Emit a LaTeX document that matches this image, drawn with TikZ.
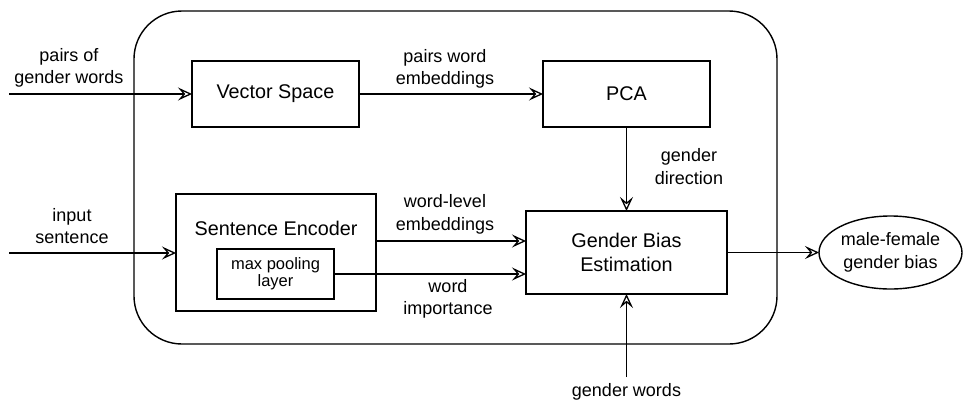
\documentclass[tikz,border=0pt]{standalone}
\usepackage{fontspec}
\setmainfont{Liberation Sans}
\usetikzlibrary{arrows.meta,shapes.geometric}
\begin{document}
\begin{tikzpicture}[x=1bp,y=-1bp,
  every node/.style={inner sep=0pt, outer sep=0pt},
  boxst/.style={draw, line width=1.4bp, rectangle},
  boxtxt/.style={align=center, font=\fontsize{19.8bp}{24bp}\selectfont},
  lbl/.style={align=center, font=\fontsize{18bp}{22.5bp}\selectfont},
  arr/.style={line width=1.4bp, -{Stealth[open, fill=white, length=14bp, width=13bp, inset=5.5bp, line width=1.3bp]}}
]
\useasboundingbox (0,0) rectangle (963,400);
% outer container
\node[draw, line width=1.4bp, rounded corners=48bp, minimum width=643bp, minimum height=333bp] (outer) at (455.5,177.5) {};
% boxes
\node[boxst, boxtxt, minimum width=167bp, minimum height=66bp] (vs) at (275.5,94) {Vector Space};
\node[boxst, boxtxt, minimum width=167bp, minimum height=66bp] (pca) at (626.5,94) {PCA};
\node[boxst, minimum width=200bp, minimum height=117bp] (se) at (276,252.5) {};
\node[boxtxt] (setxt) at (276,228) {Sentence Encoder};
\node[boxst, align=center, font=\fontsize{16.5bp}{17bp}\selectfont, minimum width=117bp, minimum height=50bp] (mp) at (275.5,274) {max pooling\\layer};
\node[boxst, boxtxt, minimum width=201bp, minimum height=83bp] (gbe) at (626.5,252.5) {Gender Bias\\Estimation};
\node[draw, line width=1.4bp, ellipse, lbl, minimum width=143bp, minimum height=73bp] (out) at (890.5,252.5) {male-female\\gender bias};
% free ends
\coordinate (in1) at (9,94);
\coordinate (in2) at (9,253);
\coordinate (gw) at (626.5,377);
\coordinate (y1) at (0,241);
% connectors
\draw[arr] (in1) -- (vs.west);
\draw[arr] (vs.east) -- (pca.west);
\draw[arr] (pca.south) -- (gbe.north);
\draw[arr] (in2) -- (se.west |- in2);
\draw[arr] (se.east |- y1) -- (gbe.west |- y1);
\draw[arr] (mp.east) -- (gbe.west |- mp.east);
\draw[arr] (gw) -- (gbe.south);
\draw[arr] (gbe.east) -- (out.west);
% labels
\node[lbl] (l1) at (69,68) {pairs of\\gender words};
\node[lbl] (l2) at (445,69) {pairs word\\embeddings};
\node[lbl] (l3) at (689,166.5) {gender\\direction};
\node[lbl] (l4) at (72,226) {input\\sentence};
\node[lbl] (l5) at (445,214.5) {word-level\\embeddings};
\node[lbl] (l6) at (448,299) {word\\importance};
\node[lbl] (l7) at (626.5,392) {gender words};
\end{tikzpicture}
\end{document}
